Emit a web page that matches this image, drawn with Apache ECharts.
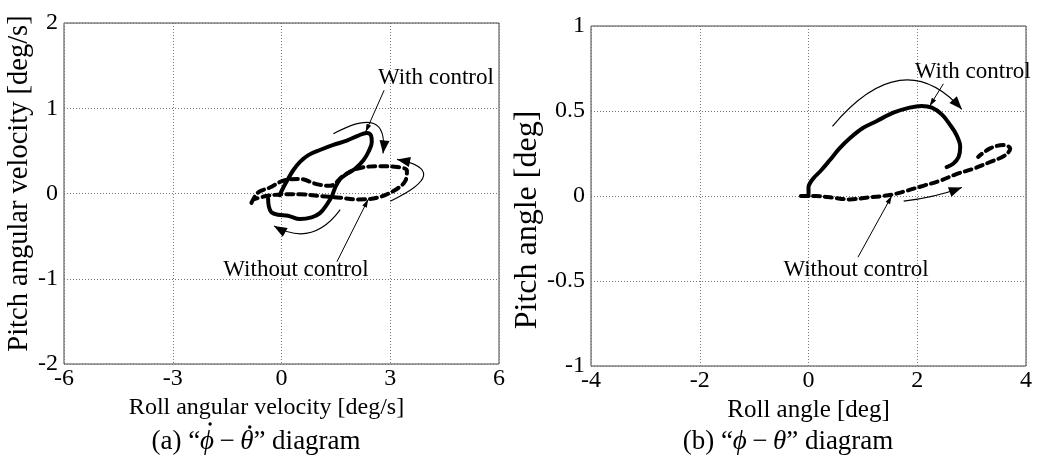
<!DOCTYPE html>
<html>
<head>
<meta charset="utf-8">
<script src="https://cdn.jsdelivr.net/npm/echarts@6/dist/echarts.min.js"></script>
<style>
  html, body { margin: 0; padding: 0; background: #fff; }
  #chart { width: 1054px; height: 475px; }
</style>
</head>
<body>
<div id="chart"></div>
<script>
// ---------- (a) angular-velocity phase plane [deg/s] ----------
const rateXRange = [-6, 6, 3];
const rateYRange = [-2, 2, 1];
const rateWithControl = [
  [-0.05, -0.02], [0.05, 0.07], [0.18, 0.17], [0.32, 0.27], [0.51, 0.37],
  [0.74, 0.45], [1.06, 0.51], [1.43, 0.57], [1.80, 0.62], [2.12, 0.68],
  [2.35, 0.71], [2.47, 0.68], [2.49, 0.60], [2.40, 0.49], [2.26, 0.39],
  [2.03, 0.29], [1.80, 0.23], [1.62, 0.17], [1.48, 0.07], [1.39, -0.03],
  [1.25, -0.13], [1.06, -0.23], [0.83, -0.28], [0.51, -0.30], [0.18, -0.26],
  [-0.09, -0.25], [-0.28, -0.22], [-0.35, -0.15], [-0.37, -0.06]
];
const rateWithoutControl = [
  [-0.83, -0.11], [-0.65, 0.01], [-0.32, 0.07], [0.05, 0.15], [0.51, 0.17],
  [0.97, 0.11], [1.34, 0.09], [1.71, 0.21], [2.08, 0.29], [2.63, 0.32],
  [3.19, 0.31], [3.46, 0.27], [3.42, 0.15], [3.09, 0.03], [2.63, -0.05],
  [2.08, -0.07], [1.62, -0.05], [1.06, -0.03], [0.51, -0.01], [0.05, -0.01],
  [-0.42, -0.03], [-0.78, -0.07]
];
// curved direction arrows: start, point passed through, end
const rateArrows = [
  [1.43, 0.70, 2.54, 0.82, 2.80, 0.47],
  [3.00, -0.09, 3.92, 0.21, 3.19, 0.40],
  [1.62, -0.19, 0.78, -0.46, -0.21, -0.38]
];
// straight leader lines from a label to its curve: start, end
const ratePointers = [
  [2.83, 1.21, 2.32, 0.72],
  [1.53, -0.80, 2.39, -0.07]
];
const rateLabels = [
  { text: 'With control', at: [4.26, 1.35] },
  { text: 'Without control', at: [0.40, -0.90] }
];

// ---------- (b) angle phase plane [deg] ----------
const angleXRange = [-4, 4, 2];
const angleYRange = [-1, 1, 0.5];
const angleWithControl = [
  [0.00, 0.00], [0.00, 0.05], [0.08, 0.10], [0.23, 0.15], [0.39, 0.21],
  [0.57, 0.28], [0.76, 0.34], [1.00, 0.40], [1.25, 0.44], [1.56, 0.49],
  [1.86, 0.52], [2.08, 0.53], [2.27, 0.52], [2.45, 0.48], [2.60, 0.42],
  [2.72, 0.36], [2.79, 0.29], [2.76, 0.23], [2.66, 0.19], [2.54, 0.17]
];
const angleWithoutControl = [
  [-0.14, 0.00], [0.14, 0.00], [0.45, -0.01], [0.76, -0.02], [1.06, -0.01],
  [1.37, 0.00], [1.56, 0.01], [1.80, 0.03], [2.11, 0.06], [2.42, 0.09],
  [2.73, 0.13], [3.03, 0.16], [3.34, 0.20], [3.62, 0.24], [3.71, 0.28],
  [3.58, 0.30], [3.34, 0.28], [3.12, 0.23]
];
const angleArrows = [
  [0.44, 0.41, 1.68, 0.68, 2.82, 0.51],
  [1.75, -0.03, 2.30, 0.00, 2.82, 0.05]
];
const anglePointers = [
  [2.48, 0.66, 2.23, 0.53],
  [0.91, -0.36, 1.53, 0.00]
];
const angleLabels = [
  { text: 'With control', at: [3.02, 0.73] },
  { text: 'Without control', at: [0.875, -0.434] }
];

// sub-figure captions: [text, italic, dot above]
const captionA = [['(a) \u201c', false, false], ['\u03d5', true, true], ['\u2009\u2212\u2009', false, false],
                  ['\u03b8', true, true], ['\u201d diagram', false, false]];
const captionB = [['(b) \u201c', false, false], ['\u03d5', true, false], ['\u2009\u2212\u2009', false, false],
                  ['\u03b8', true, false], ['\u201d diagram', false, false]];
const captionCenters = [256, 788];

const FONT = '"Liberation Serif", "Times New Roman", serif';
const CAPTION_SIZE = 27;

function axis(range, gridIndex, name, nameGap, nameSize, isY, namePadding) {
  return {
    type: 'value', gridIndex,
    min: range[0], max: range[1], interval: range[2],
    name, nameLocation: 'middle', nameGap,
    nameTextStyle: { fontFamily: FONT, fontSize: nameSize, color: '#000', padding: namePadding || 0 },
    axisLine: { show: false },
    axisTick: { show: false },
    axisLabel: { fontFamily: FONT, fontSize: 24, color: '#000', margin: isY ? 6 : 3 },
    splitLine: { lineStyle: { type: [1, 2], color: '#777', width: 1 } }
  };
}

function headPoints(tip, from, len, half) {
  const a = Math.atan2(tip[1] - from[1], tip[0] - from[0]);
  const bx = tip[0] - len * Math.cos(a), by = tip[1] - len * Math.sin(a);
  const nx = -Math.sin(a) * half, ny = Math.cos(a) * half;
  return [tip, [bx + nx, by + ny], [bx - nx, by - ny]];
}

function curvedArrow(params, api) {
  const p0 = api.coord([api.value(0), api.value(1)]);
  const m = api.coord([api.value(2), api.value(3)]);
  const p1 = api.coord([api.value(4), api.value(5)]);
  const cp = [2 * m[0] - (p0[0] + p1[0]) / 2, 2 * m[1] - (p0[1] + p1[1]) / 2];
  return {
    type: 'group',
    children: [
      { type: 'bezierCurve',
        shape: { x1: p0[0], y1: p0[1], cpx1: cp[0], cpy1: cp[1], x2: p1[0], y2: p1[1] },
        style: { stroke: '#000', fill: null, lineWidth: 1.1 } },
      { type: 'polygon', shape: { points: headPoints(p1, cp, 13, 5) }, style: { fill: '#000' } }
    ]
  };
}

function pointer(params, api) {
  const p0 = api.coord([api.value(0), api.value(1)]);
  const p1 = api.coord([api.value(2), api.value(3)]);
  return {
    type: 'group',
    children: [
      { type: 'line', shape: { x1: p0[0], y1: p0[1], x2: p1[0], y2: p1[1] },
        style: { stroke: '#000', lineWidth: 1 } },
      { type: 'polygon', shape: { points: headPoints(p1, p0, 8, 2.5) }, style: { fill: '#000' } }
    ]
  };
}

function labelText(list) {
  return function (params, api) {
    const item = list[params.dataIndex];
    const p = api.coord(item.at);
    return {
      type: 'text', x: p[0], y: p[1],
      style: { text: item.text, font: '23px ' + FONT, fill: '#000', align: 'center', verticalAlign: 'middle' }
    };
  };
}

function curveSeries(data, idx, dashed) {
  return {
    type: 'line', xAxisIndex: idx, yAxisIndex: idx, data,
    showSymbol: false, smooth: 0.35, z: 3, silent: true,
    lineStyle: { color: '#000', width: 4, type: dashed ? [7, 5] : 'solid', cap: 'round', join: 'round' }
  };
}

function annotationSeries(idx, arrows, pointers, labels) {
  return [
    { type: 'custom', xAxisIndex: idx, yAxisIndex: idx, renderItem: curvedArrow,
      data: arrows, clip: false, silent: true, z: 4, encode: { x: [0, 2, 4], y: [1, 3, 5] } },
    { type: 'custom', xAxisIndex: idx, yAxisIndex: idx, renderItem: pointer,
      data: pointers, clip: false, silent: true, z: 4, encode: { x: [0, 2], y: [1, 3] } },
    { type: 'custom', xAxisIndex: idx, yAxisIndex: idx, renderItem: labelText(labels),
      data: labels.map(l => l.at), clip: false, silent: true, z: 5, encode: { x: 0, y: 1 } }
  ];
}

// lay a caption out piece by piece so the time-derivative dots sit over their symbols
const measureCtx = document.createElement('canvas').getContext('2d');
function captionGraphics(parts, cx, cy) {
  const fonts = parts.map(p => (p[1] ? 'italic ' : '') + CAPTION_SIZE + 'px ' + FONT);
  const widths = parts.map((p, i) => { measureCtx.font = fonts[i]; return measureCtx.measureText(p[0]).width; });
  const total = widths.reduce((a, b) => a + b, 0);
  let x = cx - total / 2;
  const out = [];
  parts.forEach((p, i) => {
    out.push({ type: 'text', x, y: cy,
      style: { text: p[0], font: fonts[i], fill: '#000', align: 'left', verticalAlign: 'middle' } });
    if (p[2]) {
      // the phi stem rises higher than theta, so its dot sits a little higher
      const lift = p[0] === '\u03d5' ? 18 : 15;
      out.push({ type: 'circle', shape: { cx: x + widths[i] / 2 + 3, cy: cy - lift, r: 1.7 },
        style: { fill: '#000' } });
    }
    x += widths[i];
  });
  return out;
}

const chart = echarts.init(document.getElementById('chart'), null, { renderer: 'canvas' });
chart.setOption({
  backgroundColor: '#fff',
  animation: false,
  grid: [
    { left: 64, top: 23, width: 435, height: 341, show: true, borderColor: '#444', borderWidth: 1, backgroundColor: 'transparent' },
    { left: 591, top: 26, width: 435, height: 340, show: true, borderColor: '#444', borderWidth: 1, backgroundColor: 'transparent' }
  ],
  xAxis: [
    axis(rateXRange, 0, 'Roll angular velocity [deg/s]', 26, 24, false, [0, 30, 0, 0]),
    axis(angleXRange, 1, 'Roll angle [deg]', 26, 25, false)
  ],
  yAxis: [
    axis(rateYRange, 0, 'Pitch angular velocity [deg/s]', 25, 28.5, true, [0, 0, 0, 20]),
    axis(angleYRange, 1, 'Pitch angle [deg]', 43, 32, true, [0, 48, 0, 0])
  ],
  series: [
    curveSeries(rateWithControl, 0, false),
    curveSeries(rateWithoutControl, 0, true),
    curveSeries(angleWithControl, 1, false),
    curveSeries(angleWithoutControl, 1, true),
    ...annotationSeries(0, rateArrows, ratePointers, rateLabels),
    ...annotationSeries(1, angleArrows, anglePointers, angleLabels)
  ],
  graphic: [
    ...captionGraphics(captionA, captionCenters[0], 442),
    ...captionGraphics(captionB, captionCenters[1], 442)
  ]
});
</script>
</body>
</html>
